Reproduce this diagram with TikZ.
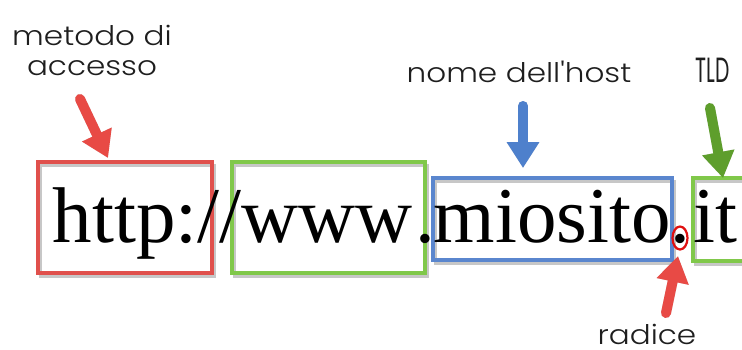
\documentclass[tikz,border=0pt]{standalone}
\usepackage{fontspec}
\setmainfont{Liberation Serif}
\newfontfamily\lab[Ligatures=TeXOff,FakeStretch=1.15,UprightFont={* Light}]{Poppins}
\newfontfamily\labnarrow[FakeStretch=0.58]{Poppins}
\usetikzlibrary{arrows.meta,shapes.geometric}

\definecolor{boxred}{HTML}{E0504C}
\definecolor{boxgreen}{HTML}{80C84A}
\definecolor{boxblue}{HTML}{5A86CE}
\definecolor{arrred}{HTML}{E84A45}
\definecolor{arrgreen}{HTML}{5E9E2C}
\definecolor{arrblue}{HTML}{4E80CC}
\definecolor{dotred}{HTML}{E01010}
\definecolor{labgray}{HTML}{1E1E1E}

\tikzset{
  part/.style={draw, line width=3.2pt, inner sep=0pt, outer sep=0pt,
    anchor=north west,
    preaction={draw=black!22, line width=3pt,
      transform canvas={shift={(2.5pt,-3pt)}}}},
  fatarrow/.style={line width=10pt, line cap=round,
    -{Triangle[width=31pt,length=26pt]}},
  fatshadow/.style={fatarrow, draw=black, opacity=0.15},
  caption/.style={font=\lab\fontsize{27}{30}\selectfont, text=labgray,
    inner sep=0pt},
  urltext/.style={anchor=base west, inner sep=0pt,
    font=\fontsize{79}{79}\selectfont}
}

\begin{document}
\begin{tikzpicture}[x=1pt,y=-1pt]
  \useasboundingbox (0,0) rectangle (742,349);
  \clip (0,0) rectangle (742,349);
  \fill[white] (0,0) rectangle (742,349);

  % frames round the parts of the address
  \node[part, draw=boxred,   minimum width=174pt, minimum height=111pt] (proto) at (38,162) {};
  \node[part, draw=boxgreen, minimum width=193pt, minimum height=111pt] (sub)   at (232,162) {};
  \node[part, draw=boxblue,  minimum width=239pt, minimum height=82pt]  (host)  at (433,178) {};
  \node[part, draw=boxgreen, minimum width=70pt,  minimum height=83pt]  (tld)   at (693,178) {};

  % the address itself, set piece by piece
  \node[urltext] (u1) at (52.5,242) {http://www};
  \node[urltext] (u2) at (415,242) {.};
  \node[urltext] (u3) at (433.7,242) {miosito};
  \node[urltext] (u4) at (670.2,242) {.};
  \node[urltext] (u5) at (693,242) {it};

  % ring round the root dot
  \node[draw=dotred, line width=2.2pt, ellipse, minimum width=15pt, minimum height=23pt, inner sep=0pt] (root) at (680,238) {};

  % captions
  \node[caption, anchor=north, align=center] (lproto) at (92,25) {metodo di\\accesso};
  \node[caption, anchor=base] (lhost) at (519,82) {nome dell'host};
  \node[caption, anchor=base, font=\labnarrow\fontsize{35}{35}\selectfont] (ltld) at (713,82) {TLD};
  \node[caption, anchor=base] (lroot) at (647,344) {radice};

  % arrow ends
  \coordinate (a1s) at (80,99);   \coordinate (a1e) at (108,158);
  \coordinate (a2s) at (523,106); \coordinate (a2e) at (523,168);
  \coordinate (a3s) at (710,108); \coordinate (a3e) at (723,178);
  \coordinate (a4s) at (666,313); \coordinate (a4e) at (678,256);

  % soft shadows under the arrows
  \begin{scope}[shift={(2,2.5)}]
    \draw[fatshadow] (a1s) -- (a1e);
    \draw[fatshadow] (a2s) -- (a2e);
    \draw[fatshadow] (a3s) -- (a3e);
    \draw[fatshadow] (a4s) -- (a4e);
  \end{scope}

  \draw[fatarrow, draw=arrred, fill=arrred]     (a1s) -- (a1e);
  \draw[fatarrow, draw=arrblue, fill=arrblue]   (a2s) -- (a2e);
  \draw[fatarrow, draw=arrgreen, fill=arrgreen] (a3s) -- (a3e);
  \draw[fatarrow, draw=arrred, fill=arrred]     (a4s) -- (a4e);
\end{tikzpicture}
\end{document}
